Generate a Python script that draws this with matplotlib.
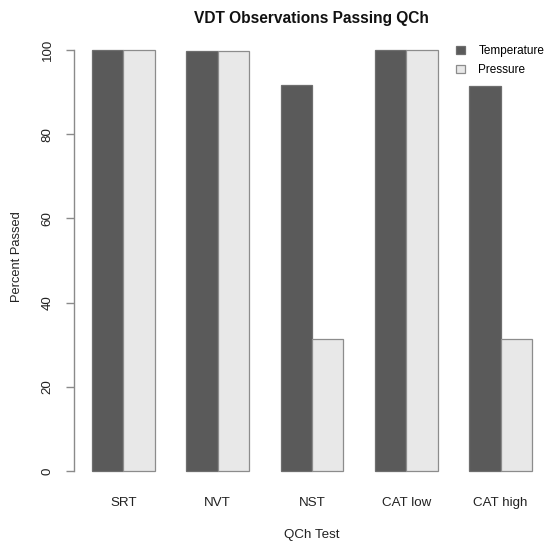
import matplotlib
matplotlib.use("Agg")
import matplotlib.pyplot as plt
from matplotlib.patches import Patch
import numpy as np

plt.rcParams['font.family'] = ['Liberation Sans', 'DejaVu Sans']

tests = ["SRT", "NVT", "NST", "CAT low", "CAT high"]
temperature = [100.0, 99.8, 91.7, 100.0, 91.5]
pressure = [100.0, 99.8, 31.4, 100.0, 31.4]
series_names = ["Temperature", "Pressure"]
yticks = [0, 20, 40, 60, 80, 100]

dark = "#5a5a5a"
light = "#e8e8e8"
edge = "#6e6e6e"

W, H = 549, 543
fig = plt.figure(figsize=(W / 100, H / 100), dpi=100)

# plot region (pixels): left 74.4, right 549.6, top 33.2, bottom 487.8
left, right, top, bottom = 74.4, 549.6, 33.2, 487.8
ax = fig.add_axes([left / W, 1 - bottom / H, (right - left) / W, (bottom - top) / H])

n = len(tests)
# grouped layout: two unit-width bars per group, one unit gap between groups
group_start = 1 + 3 * np.arange(n)
ax.bar(group_start + 0.5, temperature, width=1.0, color=dark, edgecolor=edge, linewidth=0.9)
ax.bar(group_start + 1.5, pressure, width=1.0, color=light, edgecolor="#8c8c8c", linewidth=0.9)

ax.set_xlim(0.44, 15.56)
ax.set_ylim(-4, 104)

for s in ["top", "right", "bottom"]:
    ax.spines[s].set_visible(False)
ax.spines["left"].set_bounds(0, 100)
ax.spines["left"].set_color("#8a8a8a")
ax.spines["left"].set_linewidth(1.0)

ax.set_yticks(yticks)
ax.set_yticklabels([str(v) for v in yticks], rotation=90, va="center")
ax.tick_params(axis="y", length=6, width=1.0, color="#8a8a8a", pad=9, labelsize=9.6, labelcolor="#222222")

ax.set_xticks(group_start + 1.0)
ax.set_xticklabels(tests)
ax.tick_params(axis="x", length=0, pad=6.5, labelsize=9.6, labelcolor="#222222")

fig.text(311.5 / W, 1 - 18 / H, "VDT Observations Passing QCh", ha="center", va="center",
         fontsize=11.2, fontweight="bold", color="#111111")
fig.text(311.5 / W, 1 - 535 / H, "QCh Test", ha="center", va="center", fontsize=9.6, color="#222222")
fig.text(17.5 / W, 1 - 257 / H, "Percent Passed", ha="center", va="center", rotation=90,
         fontsize=9.3, color="#222222")

handles = [Patch(facecolor=dark, edgecolor=edge, linewidth=0.9),
           Patch(facecolor=light, edgecolor="#8c8c8c", linewidth=0.9)]
fig.legend(handles, series_names, loc="upper left", bbox_to_anchor=(456 / W, 1 - 45 / H),
           frameon=False, fontsize=8.5, handlelength=0.75, handleheight=0.75,
           handletextpad=1.15, labelspacing=0.6, borderaxespad=0, borderpad=0)

fig.savefig("out.png", dpi=100)
